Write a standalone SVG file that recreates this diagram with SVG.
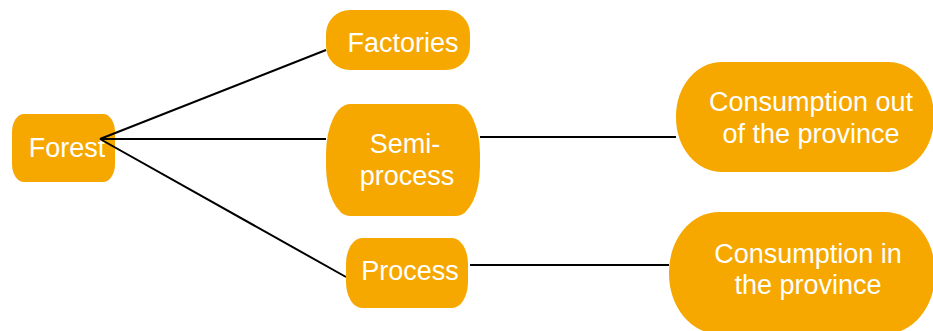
<svg xmlns="http://www.w3.org/2000/svg" width="933" height="331" viewBox="0 0 933 331">
<style>
.n{fill:#F6A800;}
.t{fill:#fff;font-family:"Liberation Sans",Arial,sans-serif;font-size:27px;text-anchor:middle;}
.c{stroke:#000;stroke-width:2;fill:none;}
</style>
<rect width="933" height="331" fill="#fff"/>
<g id="forest"><rect class="n" x="12" y="114" width="103" height="68" rx="12" ry="18"/><text class="t" x="67" y="157">Forest</text></g>
<g id="connectors">
<line class="c" x1="100" y1="139" x2="326" y2="50"/>
<line class="c" x1="100" y1="139" x2="326" y2="139"/>
<line class="c" x1="100" y1="139" x2="346" y2="277"/>
<line class="c" x1="480" y1="137" x2="676" y2="137"/>
<line class="c" x1="470" y1="265" x2="669" y2="265"/>
</g>
<g id="factories"><rect class="n" x="326" y="10" width="144" height="60" rx="24" ry="24"/><text class="t" x="403" y="52">Factories</text></g>
<g id="semiprocess"><rect class="n" x="326" y="104" width="154" height="112" rx="24" ry="50"/><text class="t" x="405" y="153">Semi-</text><text class="t" x="407" y="185">process</text></g>
<g id="process"><rect class="n" x="346" y="238" width="122" height="70" rx="16" ry="26"/><text class="t" x="410" y="280">Process</text></g>
<g id="consumption-out"><rect class="n" x="676" y="62" width="258" height="110" rx="46" ry="54"/><text class="t" x="811" y="111">Consumption out</text><text class="t" x="811" y="143">of the province</text></g>
<g id="consumption-in"><rect class="n" x="669" y="212" width="266" height="122" rx="50" ry="60"/><text class="t" x="808" y="263">Consumption in</text><text class="t" x="808" y="294">the province</text></g>
</svg>
